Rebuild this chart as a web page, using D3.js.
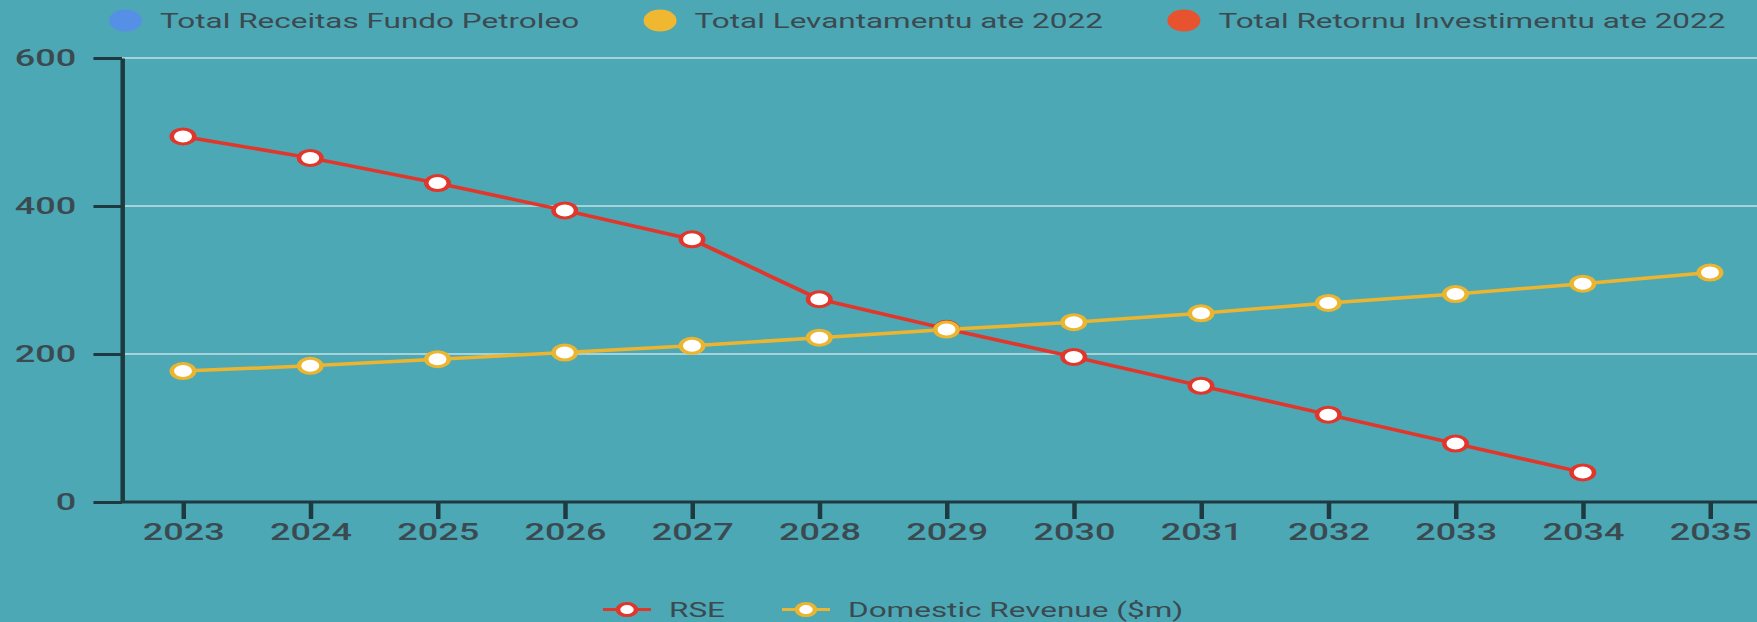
<!DOCTYPE html>
<html>
<head>
<meta charset="utf-8">
<script src="https://cdn.jsdelivr.net/npm/d3@7"></script>
<style>
  html, body { margin: 0; padding: 0; background: #4ca8b5; overflow: hidden; }
  svg { display: block; }
  text { font-family: Roboto, "Noto Sans", sans-serif; }
</style>
</head>
<body>
<svg id="chart"></svg>
<script>
// ---- data ----
const years = ["2023","2024","2025","2026","2027","2028","2029","2030","2031","2032","2033","2034","2035"];
const rseYears = ["2023","2024","2025","2026","2027","2028","2029","2030","2031","2032","2033","2034"];
const rseValues = [494, 465, 431, 394, 355, 274, 234, 196, 157, 118, 79, 40];
const domesticValues = [177, 184, 193, 202, 211, 222, 233, 243, 255, 269, 281, 295, 310];
const yTickValues = [0, 200, 400, 600];
const topLegendLabels = ["Total Receitas Fundo Petroleo", "Total Levantamentu ate 2022", "Total Retornu Investimentu ate 2022"];
const topLegendColors = ["#5590e6", "#f0b731", "#e8532f"];
const seriesNames = ["RSE", "Domestic Revenue ($m)"];
const seriesColors = ["#e0362b", "#ecb530"];

// ---- layout (drawing is stretched 1.5x horizontally like the reference) ----
const W = 1757, H = 622, STRETCH = 1.5;
const VW = W / STRETCH;
const svg = d3.select("#chart")
  .attr("width", W).attr("height", H)
  .attr("viewBox", `0 0 ${VW} ${H}`)
  .attr("preserveAspectRatio", "none");

svg.append("rect").attr("x", 0).attr("y", 0).attr("width", VW).attr("height", H).attr("fill", "#4ca8b5");

const axisX = 81.3;
const x = d3.scalePoint().domain(years).range([122, 1140]);
const y = d3.scaleLinear().domain([0, 600]).range([502, 58]);
const axisColor = "#1e3a40";
const textColor = "#3b4a50";

// gridlines
svg.append("g").selectAll("line")
  .data(yTickValues.filter(d => d > 0))
  .join("line")
  .attr("x1", axisX).attr("x2", VW)
  .attr("y1", d => y(d)).attr("y2", d => y(d))
  .attr("stroke", "#a6d3da").attr("stroke-width", 2);

// y axis
const gy = svg.append("g").attr("transform", `translate(${axisX},0)`)
  .call(d3.axisLeft(y).tickValues(yTickValues).tickSize(19).tickSizeOuter(0).tickPadding(11.5));
gy.select(".domain").attr("stroke", axisColor).attr("stroke-width", 3);
gy.selectAll(".tick line").attr("stroke", axisColor).attr("stroke-width", 3);
gy.selectAll(".tick text").attr("fill", textColor).attr("font-size", 24).attr("font-weight", 500)
  .attr("font-family", "Roboto, sans-serif");

// x axis
const gx = svg.append("g").attr("transform", `translate(0,${y(0)})`)
  .call(d3.axisBottom(x).tickSize(17).tickSizeOuter(0).tickPadding(4));
gx.select(".domain").remove();
gx.selectAll(".tick line").attr("stroke", axisColor).attr("stroke-width", 3);
gx.selectAll(".tick text").attr("fill", textColor).attr("font-size", 24).attr("font-weight", 500)
  .attr("font-family", "Roboto, sans-serif");
svg.append("line").attr("x1", axisX).attr("x2", VW).attr("y1", y(0)).attr("y2", y(0))
  .attr("stroke", axisColor).attr("stroke-width", 3);

// series
const rseData = rseYears.map((yr, i) => ({ x: yr, v: rseValues[i] }));
const domData = years.map((yr, i) => ({ x: yr, v: domesticValues[i] }));
const line = d3.line().x(d => x(d.x)).y(d => y(d.v));

svg.append("path").datum(rseData).attr("d", line).attr("fill", "none")
  .attr("stroke", seriesColors[0]).attr("stroke-width", 3.5);
svg.append("path").datum(domData).attr("d", line).attr("fill", "none")
  .attr("stroke", seriesColors[1]).attr("stroke-width", 3.5);

svg.append("g").selectAll("circle").data(rseData).join("circle")
  .attr("cx", d => x(d.x)).attr("cy", d => y(d.v)).attr("r", 7.5)
  .attr("fill", "#ffffff").attr("stroke", seriesColors[0]).attr("stroke-width", 3);
svg.append("g").selectAll("circle").data(domData).join("circle")
  .attr("cx", d => x(d.x)).attr("cy", d => y(d.v)).attr("r", 7.5)
  .attr("fill", "#ffffff").attr("stroke", seriesColors[1]).attr("stroke-width", 3);

// top legend
let lx = 72.7;
topLegendLabels.forEach((lab, i) => {
  svg.append("circle").attr("cx", lx + 11).attr("cy", 20.5).attr("r", 11).attr("fill", topLegendColors[i]);
  const t = svg.append("text").attr("x", lx + 34).attr("y", 28.3)
    .attr("font-size", 21).attr("fill", textColor).text(lab);
  const w = t.node().getComputedTextLength();
  lx = lx + 34 + w + 43;
});

// bottom legend
let bx = 402;
seriesNames.forEach((lab, i) => {
  const cy = 609.6;
  svg.append("line").attr("x1", bx).attr("x2", bx + 32).attr("y1", cy).attr("y2", cy)
    .attr("stroke", seriesColors[i]).attr("stroke-width", 3);
  svg.append("circle").attr("cx", bx + 16).attr("cy", cy).attr("r", 6)
    .attr("fill", "#ffffff").attr("stroke", seriesColors[i]).attr("stroke-width", 3);
  const t = svg.append("text").attr("x", bx + 44).attr("y", cy + 7.3)
    .attr("font-size", 21).attr("fill", textColor).text(lab);
  const w = t.node().getComputedTextLength();
  bx = bx + 44 + w + 38;
});
</script>
</body>
</html>
